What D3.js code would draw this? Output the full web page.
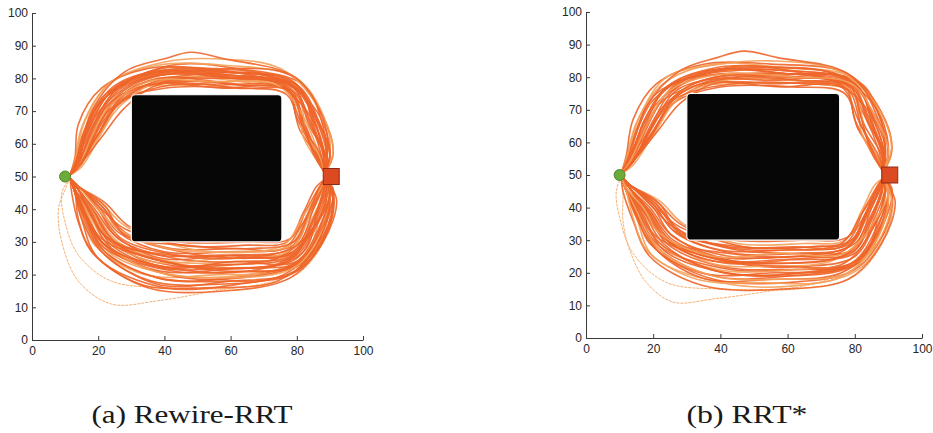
<!DOCTYPE html>
<html>
<head>
<meta charset="utf-8">
<script src="https://cdn.jsdelivr.net/npm/d3@7"></script>
<style>
body { margin: 0; background: #fff; }
svg { display: block; }
</style>
</head>
<body>
<div class="charts"></div>
<script>
// tick labels (both panels use the same axes)
var xTicks = [0, 20, 40, 60, 80, 100];
var yTicks = [0, 10, 20, 30, 40, 50, 60, 70, 80, 90, 100];

// obstacle box [x0, y0, x1, y1], start and goal
var obstacle = [30, 30, 75.5, 75];
var startA = [10, 50], goalA = [90.4, 50];
var startB = [10, 50], goalB = [90.4, 50];

var captions = ["(a) Rewire-RRT", "(b) RRT*"];

// (a) Rewire-RRT, paths around the top of the obstacle
var topA = [
  [[11.5,50.5],[14,53],[20,63],[27,73],[40,77],[62,77],[77,75],[81,64],[87,55],[88.5,51]],
  [[11.5,50.5],[14,54],[18,63],[24,73],[40,79],[62,78],[78,76],[83,64],[87,55],[88.5,51]],
  [[11.5,50.5],[13,54],[16,64],[22,75],[40,82],[60,81],[80,77],[86,65],[88,56],[88.5,51]],
  [[11.5,50.5],[14,53],[17,62],[25,76],[42,84],[62,83],[82,78],[88,65],[89,56],[88.5,51]],
  [[11.5,50.5],[13,55],[15,65],[23,78],[38,84],[58,84],[80,80],[89,66],[90,56],[88.5,51]],
  [[11.5,50.5],[14,53],[21,64],[28,75],[45,80],[65,80],[79,77],[84,66],[88,57],[88.5,51]],
  [[11.5,50.5],[15,54],[19,64],[26,74],[38,80],[57,79],[76,78],[82,67],[86,57],[88.5,51]],
  [[11.5,50.5],[13,53],[18,65],[27,78],[44,83],[66,81],[81,76],[86,63],[89,55],[88.5,51]],
  [[11.5,50.5],[14,54],[17,66],[24,77],[36,82],[60,82],[79,79],[85,68],[88,58],[88.5,51]],
  [[11.5,50.5],[15,53],[22,65],[29,76],[48,78],[68,79],[80,75],[83,63],[87,56],[88.5,51]],
  [[11.5,50.5],[13,56],[14,66],[21,77],[35,83],[55,83],[78,81],[88,68],[91,57],[88.5,51]],
  [[11.5,50.5],[14,53],[19,61],[25,71],[36,78],[58,77],[77,77],[80,68],[85,58],[88.5,51]],
  [[11.5,50.5],[14,54],[16,62],[22,72],[34,80],[56,81],[78,78],[84,67],[87,58],[88.5,51]],
  [[11.5,50.5],[13,54],[15,62],[20,72],[33,81],[52,82],[74,80],[86,70],[90,58],[88.5,51]],
  [[11.5,50.5],[14,53],[20,62],[27,72],[41,80],[63,79],[79,75],[82,62],[86,55],[88.5,51]],
  [[11.5,50.5],[15,54],[21,66],[30,77],[47,81],[70,81],[81,77],[85,65],[88,57],[88.5,51]],
  [[11.5,50.5],[13,53],[17,60],[23,70],[37,79],[55,80],[73,79],[83,70],[88,59],[88.5,51]],
  [[11.5,50.5],[14,55],[18,67],[26,78],[42,82],[61,80],[78,77],[82,66],[85,57],[88.5,51]],
  [[11.5,50.5],[14,53],[19,63],[25,74],[39,81],[60,80],[80,78],[87,66],[90,56],[88.5,51]],
  [[11.5,50.5],[13,55],[16,67],[24,79],[40,85],[55,86],[75,83],[86,72],[91,58],[88.5,51]],
  [[11.5,50.5],[14,56],[18,70],[28,82],[40,86],[48,88],[58,86],[80,80],[89,64],[88.5,51]],
  [[11.5,50.5],[14,53],[21,62],[28,71],[38,78],[56,78],[76,77],[81,67],[86,56],[88.5,51]],
  [[11.5,50.5],[15,54],[20,65],[27,75],[43,79],[64,78],[79,76],[84,65],[89,56],[88.5,51]],
  [[11.5,50.5],[13,54],[17,64],[24,76],[39,83],[57,82],[77,79],[85,69],[89,59],[88.5,51]],
  [[11.5,50.5],[14,53],[18,62],[23,71],[35,79],[54,79],[74,78],[81,70],[86,59],[88.5,51]],
  [[11.5,50.5],[14,54],[19,66],[27,77],[46,82],[67,82],[80,78],[86,67],[89,57],[88.5,51]],
  [[11.5,50.5],[13,54],[16,63],[22,74],[37,81],[59,81],[79,78],[86,68],[90,57],[88.5,51]],
  [[11.5,50.5],[14,53],[20,63],[26,72],[42,78],[64,77],[78,76],[82,65],[87,57],[88.5,51]]
];

// (a) Rewire-RRT, paths under the obstacle
var bottomA = [
  [[11.5,49.5],[14,47],[21,41],[28,33],[42,28],[62,28],[76,28],[82,36],[87,45],[88.5,49]],
  [[11.5,49.5],[14,46],[19,39],[26,30],[42,24],[62,24],[78,26],[84,36],[88,45],[88.5,49]],
  [[11.5,49.5],[13,46],[16,38],[21,28],[38,19],[60,19],[80,24],[88,36],[90,45],[88.5,49]],
  [[11.5,49.5],[13,45],[15,37],[20,25],[40,16],[62,17],[81,22],[90,35],[91,45],[88.5,49]],
  [[11.5,49.5],[14,47],[20,40],[27,31],[44,26],[64,26],[78,28],[83,38],[87,46],[88.5,49]],
  [[11.5,49.5],[14,46],[18,39],[24,29],[40,22],[58,22],[77,24],[85,34],[89,44],[88.5,49]],
  [[11.5,49.5],[13,46],[17,38],[23,27],[42,20],[65,20],[82,25],[87,38],[89,46],[88.5,49]],
  [[11.5,49.5],[13,45],[16,36],[22,26],[36,18],[55,17],[76,20],[88,32],[91,44],[88.5,49]],
  [[11.5,49.5],[14,47],[22,42],[29,35],[45,29],[65,29],[77,30],[82,39],[86,47],[88.5,49]],
  [[11.5,49.5],[14,46],[19,40],[25,32],[39,25],[60,26],[79,27],[85,37],[88,46],[88.5,49]],
  [[11.5,49.5],[13,46],[17,39],[24,30],[44,23],[66,22],[80,25],[86,35],[90,44],[88.5,49]],
  [[11.5,49.5],[13,45],[15,38],[19,29],[34,20],[56,20],[78,22],[87,34],[90,45],[88.5,49]],
  [[11.5,49.5],[14,47],[20,41],[26,33],[40,27],[59,27],[79,29],[84,39],[88,47],[88.5,49]],
  [[11.5,49.5],[13,46],[18,40],[24,31],[37,23],[54,23],[74,25],[84,33],[89,43],[88.5,49]],
  [[11.5,49.5],[13,45],[16,37],[22,28],[43,21],[63,21],[81,23],[89,36],[91,46],[88.5,49]],
  [[11.5,49.5],[12,45],[14,36],[19,26],[35,16],[58,15],[78,19],[88,30],[92,43],[88.5,49]],
  [[11.5,49.5],[14,47],[21,42],[28,35],[47,28],[68,27],[78,29],[83,37],[86,45],[88.5,49]],
  [[11.5,49.5],[14,46],[19,38],[25,29],[41,23],[61,23],[80,26],[86,37],[89,46],[88.5,49]],
  [[11.5,49.5],[13,46],[17,37],[23,28],[39,21],[62,22],[82,24],[88,34],[90,43],[88.5,49]],
  [[11.5,49.5],[13,45],[15,37],[21,27],[38,17],[60,18],[80,21],[89,33],[91,44],[88.5,49]],
  [[11.5,49.5],[14,47],[20,40],[26,31],[43,25],[64,24],[79,26],[85,36],[88,45],[88.5,49]],
  [[11.5,49.5],[14,46],[18,40],[23,31],[36,24],[57,25],[77,27],[84,38],[88,47],[88.5,49]],
  [[11.5,49.5],[13,46],[16,38],[22,29],[41,20],[63,19],[81,24],[88,37],[90,46],[88.5,49]],
  [[11.5,49.5],[13,45],[14,37],[18,27],[33,17],[52,16],[74,18],[86,28],[91,42],[88.5,49]],
  [[11.5,49.5],[14,47],[21,41],[27,33],[45,27],[66,25],[80,27],[84,35],[88,44],[88.5,49]],
  [[11.5,49.5],[14,46],[19,39],[25,30],[40,24],[60,21],[79,23],[87,35],[90,45],[88.5,49]],
  [[11.5,49.5],[13,46],[17,39],[23,29],[37,21],[58,19],[79,22],[87,32],[90,42],[88.5,49]],
  [[11.5,49.5],[14,47],[20,41],[28,34],[44,30],[64,30],[78,31],[83,40],[87,47],[88.5,49]],
  [[11.5,49.5],[13,45],[16,38],[21,30],[39,22],[61,24],[80,24],[88,35],[91,46],[88.5,49]],
  [[11.5,49.5],[14,46],[18,38],[24,28],[42,22],[65,21],[82,27],[86,38],[89,47],[88.5,49]],
  [[11.5,49.5],[13,46],[17,37],[22,27],[38,19],[58,18],[78,20],[87,31],[90,43],[88.5,49]],
  [[11.5,49.5],[14,47],[19,41],[26,34],[41,28],[61,27],[76,29],[82,38],[87,46],[88.5,49]],
  [[11.5,49.5],[13,46],[16,39],[21,31],[36,25],[56,22],[76,24],[85,34],[89,44],[88.5,49]],
  [[11.5,49.5],[14,46],[18,38],[24,30],[42,26],[62,25],[80,29],[85,40],[88,47],[88.5,49]],
  [[11.5,49.5],[14,47],[22,41],[28,32],[46,29],[66,28],[79,30],[84,40],[87,47],[88.5,49]],
  [[11.5,49.5],[13,46],[17,40],[22,32],[38,26],[57,26],[77,26],[86,36],[90,45],[88.5,49]]
];

// (a) faint stray paths
var strayA = [
  [[11.5,49.5],[10,46],[8,40],[9,30],[14,18],[24,11],[38,12],[55,15],[75,19],[87,30],[90,42],[88.5,49]],
  [[11.5,49.5],[9,45],[10,36],[14,26],[24,18],[42,16],[62,16],[80,20],[89,32],[91,44],[88.5,49]]
];

// (b) RRT*, paths around the top of the obstacle
var topB = [
  [[10.5,50.5],[13,53],[19,62],[26,72],[40,77],[62,77],[77,75],[81,64],[87,55],[88.5,51]],
  [[10.5,50.5],[13,54],[17,63],[23,73],[40,79],[62,79],[78,77],[83,65],[88,56],[88.5,51]],
  [[10.5,50.5],[12,54],[15,64],[21,75],[40,82],[61,81],[80,78],[86,66],[89,56],[88.5,51]],
  [[10.5,50.5],[13,53],[17,62],[25,76],[42,83],[62,82],[82,78],[88,66],[90,57],[88.5,51]],
  [[10.5,50.5],[12,55],[15,66],[23,78],[38,84],[58,83],[79,80],[89,67],[91,57],[88.5,51]],
  [[10.5,50.5],[13,53],[21,65],[28,75],[45,80],[65,80],[79,77],[84,67],[88,57],[88.5,51]],
  [[10.5,50.5],[14,54],[19,64],[26,74],[38,80],[57,80],[77,78],[83,68],[87,58],[88.5,51]],
  [[10.5,50.5],[12,53],[18,65],[27,78],[44,82],[66,81],[81,76],[86,64],[89,55],[88.5,51]],
  [[10.5,50.5],[13,54],[17,66],[24,77],[36,82],[60,82],[79,79],[85,69],[89,59],[88.5,51]],
  [[10.5,50.5],[14,53],[22,66],[29,76],[48,78],[68,78],[80,75],[83,63],[87,55],[88.5,51]],
  [[10.5,50.5],[12,56],[14,67],[21,78],[35,84],[55,84],[78,81],[88,69],[91,58],[88.5,51]],
  [[10.5,50.5],[13,53],[19,61],[25,71],[36,78],[58,77],[77,77],[80,67],[85,57],[88.5,51]],
  [[10.5,50.5],[13,54],[16,63],[22,73],[34,80],[56,81],[78,79],[84,68],[88,58],[88.5,51]],
  [[10.5,50.5],[12,54],[15,63],[20,73],[33,81],[52,83],[74,81],[86,71],[90,59],[88.5,51]],
  [[10.5,50.5],[13,53],[20,62],[27,73],[41,79],[63,79],[79,76],[82,63],[86,55],[88.5,51]],
  [[10.5,50.5],[14,54],[21,67],[30,77],[47,81],[70,80],[81,77],[85,66],[88,57],[88.5,51]],
  [[10.5,50.5],[12,53],[17,61],[23,71],[37,79],[55,79],[73,79],[83,71],[88,60],[88.5,51]],
  [[10.5,50.5],[13,55],[18,68],[26,78],[42,81],[61,80],[78,78],[82,67],[85,57],[88.5,51]],
  [[10.5,50.5],[13,53],[19,64],[25,75],[39,82],[60,81],[80,79],[87,67],[90,57],[88.5,51]],
  [[10.5,50.5],[12,55],[16,68],[24,80],[40,84],[55,85],[75,82],[86,72],[91,59],[88.5,51]],
  [[10.5,50.5],[13,56],[18,71],[28,82],[39,86],[47,88],[57,86],[78,81],[88,66],[88.5,51]],
  [[10.5,50.5],[13,53],[21,63],[28,72],[38,78],[56,78],[76,77],[81,67],[86,56],[88.5,51]],
  [[10.5,50.5],[14,54],[20,65],[27,76],[43,80],[64,79],[79,77],[84,66],[89,56],[88.5,51]],
  [[10.5,50.5],[12,54],[17,64],[24,77],[39,83],[57,83],[77,80],[85,70],[89,60],[88.5,51]],
  [[10.5,50.5],[13,54],[18,65],[25,76],[41,81],[62,80],[79,78],[86,68],[90,58],[88.5,51]],
  [[10.5,50.5],[13,53],[20,63],[26,73],[44,78],[65,78],[78,76],[82,65],[87,56],[88.5,51]]
];

// (b) RRT*, paths under the obstacle
var bottomB = [
  [[10.5,49.5],[13,47],[21,41],[28,33],[42,28],[62,28],[76,28],[82,36],[87,45],[88.5,49]],
  [[10.5,49.5],[13,46],[19,39],[26,30],[42,24],[62,23],[78,26],[84,36],[88,45],[88.5,49]],
  [[10.5,49.5],[12,46],[16,38],[21,28],[38,19],[60,19],[80,23],[88,35],[90,45],[88.5,49]],
  [[10.5,49.5],[12,45],[15,37],[20,25],[40,17],[62,16],[81,21],[90,34],[91,45],[88.5,49]],
  [[10.5,49.5],[13,47],[20,41],[27,32],[44,26],[64,26],[78,28],[83,38],[87,46],[88.5,49]],
  [[10.5,49.5],[13,46],[18,39],[24,29],[40,22],[58,21],[77,23],[85,33],[89,44],[88.5,49]],
  [[10.5,49.5],[12,46],[17,38],[23,27],[42,20],[65,20],[82,24],[87,37],[89,46],[88.5,49]],
  [[10.5,49.5],[12,45],[16,36],[22,26],[36,18],[55,18],[76,20],[88,31],[91,44],[88.5,49]],
  [[10.5,49.5],[13,47],[22,42],[29,35],[45,29],[65,29],[77,30],[82,39],[86,47],[88.5,49]],
  [[10.5,49.5],[13,46],[19,40],[25,32],[39,25],[60,25],[79,27],[85,37],[88,46],[88.5,49]],
  [[10.5,49.5],[12,46],[17,39],[24,30],[44,23],[66,22],[80,25],[86,35],[90,44],[88.5,49]],
  [[10.5,49.5],[12,45],[15,38],[19,29],[34,20],[56,20],[78,22],[87,33],[90,45],[88.5,49]],
  [[10.5,49.5],[13,47],[20,41],[26,33],[40,27],[59,27],[79,29],[84,39],[88,47],[88.5,49]],
  [[10.5,49.5],[12,46],[18,40],[24,31],[37,23],[54,22],[74,24],[84,33],[89,43],[88.5,49]],
  [[10.5,49.5],[12,45],[16,37],[22,28],[43,21],[63,21],[81,23],[89,36],[91,46],[88.5,49]],
  [[10.5,49.5],[11,45],[14,36],[19,25],[35,16],[58,15],[78,18],[88,29],[92,42],[88.5,49]],
  [[10.5,49.5],[13,47],[21,42],[28,35],[47,28],[68,28],[78,29],[83,37],[86,45],[88.5,49]],
  [[10.5,49.5],[13,46],[19,38],[25,29],[41,23],[61,24],[80,26],[86,37],[89,46],[88.5,49]],
  [[10.5,49.5],[12,46],[17,37],[23,28],[39,21],[62,21],[82,24],[88,34],[90,43],[88.5,49]],
  [[10.5,49.5],[12,45],[15,37],[21,27],[38,18],[60,17],[80,21],[89,33],[91,44],[88.5,49]],
  [[10.5,49.5],[13,47],[20,40],[26,31],[43,25],[64,25],[79,26],[85,36],[88,45],[88.5,49]],
  [[10.5,49.5],[13,46],[18,40],[23,31],[36,24],[57,24],[77,27],[84,38],[88,47],[88.5,49]],
  [[10.5,49.5],[12,46],[16,38],[22,29],[41,20],[63,20],[81,24],[88,37],[90,46],[88.5,49]],
  [[10.5,49.5],[12,45],[14,37],[18,27],[33,18],[52,17],[74,18],[86,28],[91,42],[88.5,49]],
  [[10.5,49.5],[13,47],[21,41],[27,33],[45,27],[66,26],[80,27],[84,35],[88,44],[88.5,49]],
  [[10.5,49.5],[13,46],[19,39],[25,30],[40,24],[60,22],[79,23],[87,35],[90,45],[88.5,49]],
  [[10.5,49.5],[12,46],[17,39],[23,29],[37,21],[58,19],[79,22],[87,32],[90,42],[88.5,49]],
  [[10.5,49.5],[13,47],[20,41],[28,34],[44,30],[64,30],[78,31],[83,40],[87,47],[88.5,49]],
  [[10.5,49.5],[12,46],[16,37],[22,27],[38,19],[58,18],[78,20],[87,31],[90,43],[88.5,49]],
  [[10.5,49.5],[13,47],[19,41],[26,34],[41,28],[61,27],[76,29],[82,38],[87,46],[88.5,49]],
  [[10.5,49.5],[12,46],[16,39],[21,31],[36,25],[56,23],[76,25],[85,34],[89,44],[88.5,49]],
  [[10.5,49.5],[13,46],[18,38],[24,30],[42,26],[62,25],[80,29],[85,40],[88,47],[88.5,49]],
  [[10.5,49.5],[13,47],[22,41],[28,32],[46,28],[67,28],[79,30],[84,40],[87,47],[88.5,49]],
  [[10.5,49.5],[12,46],[17,40],[22,32],[38,25],[58,26],[77,26],[86,36],[90,45],[88.5,49]]
];

// (b) faint stray paths
var strayB = [
  [[10.5,49.5],[11,44],[11,36],[13,27],[18,17],[26,11],[38,12],[52,14],[72,18],[86,28],[91,41],[88.5,49]],
  [[10.5,49.5],[9,45],[10,37],[14,26],[24,17],[42,15],[62,15],[80,19],[89,31],[91,43],[88.5,49]]
];

var W = 933, H = 433;

var svg = d3.select('.charts')
  .append('svg')
  .attr('width', W)
  .attr('height', H);

var panels = [
  { xr: [32, 363], yr: [340, 13], paths: topA.concat(bottomA), stray: strayA,
    start: startA, goal: goalA, caption: captions[0], capX: 192, capW: 201 },
  { xr: [586, 922], yr: [338, 12], paths: topB.concat(bottomB), stray: strayB,
    start: startB, goal: goalB, caption: captions[1], capX: 747, capW: 121 }
];

var drawPanel = function(p) {
  var x = d3.scaleLinear().domain([0, 100]).range(p.xr);
  var y = d3.scaleLinear().domain([0, 100]).range(p.yr);
  var g = svg.append('g');

  var line = d3.line()
    .x(function(d) { return x(d[0]); })
    .y(function(d) { return y(d[1]); })
    .curve(d3.curveCatmullRom.alpha(0.5));

  // stray, faint paths first
  g.selectAll('path.stray')
    .data(p.stray)
    .enter()
    .append('path')
    .attr('class', 'stray')
    .attr('d', line)
    .attr('fill', 'none')
    .attr('stroke', '#f3a765')
    .attr('stroke-width', 0.9)
    .attr('stroke-dasharray', '3,1');

  g.selectAll('path.traj')
    .data(p.paths)
    .enter()
    .append('path')
    .attr('class', 'traj')
    .attr('d', line)
    .attr('fill', 'none')
    .attr('stroke', function(d, i) {
      return i % 5 === 4 ? '#f4a05a' : '#ee6529';
    })
    .attr('stroke-width', 1.6)
    .attr('stroke-opacity', 0.9);

  // obstacle
  g.append('rect')
    .attr('x', x(obstacle[0]))
    .attr('y', y(obstacle[3]))
    .attr('width', x(obstacle[2]) - x(obstacle[0]))
    .attr('height', y(obstacle[1]) - y(obstacle[3]))
    .attr('rx', 4)
    .attr('fill', '#060606')
    .attr('stroke', '#fff')
    .attr('stroke-width', 1.2);

  // start and goal markers
  g.append('circle')
    .attr('cx', x(p.start[0]))
    .attr('cy', y(p.start[1]))
    .attr('r', 5.5)
    .attr('fill', '#6cab3a')
    .attr('stroke', '#4e8a2a')
    .attr('stroke-width', 1);

  g.append('rect')
    .attr('x', x(p.goal[0]) - 8)
    .attr('y', y(p.goal[1]) - 8)
    .attr('width', 16)
    .attr('height', 16)
    .attr('fill', '#dd4a22')
    .attr('stroke', '#8c2a16')
    .attr('stroke-width', 1);

  // axes, ticks pointing inward like the original
  var xAxis = d3.axisBottom(x).tickValues(xTicks).tickSizeInner(-4).tickSizeOuter(0).tickPadding(6);
  var yAxis = d3.axisLeft(y).tickValues(yTicks).tickSizeInner(-4).tickSizeOuter(0).tickPadding(4);

  var gx = g.append('g')
    .attr('transform', 'translate(0,' + p.yr[0] + ')')
    .call(xAxis);
  var gy = g.append('g')
    .attr('transform', 'translate(' + p.xr[0] + ',0)')
    .call(yAxis);

  [gx, gy].forEach(function(a) {
    a.selectAll('path, line').attr('stroke', '#3a3a3a');
    a.selectAll('text')
      .attr('fill', '#262626')
      .attr('font-family', 'Arial, "Liberation Sans", Helvetica, sans-serif')
      .attr('font-size', 12);
  });

  // caption
  svg.append('text')
    .attr('x', p.capX)
    .attr('y', 423)
    .attr('text-anchor', 'middle')
    .attr('textLength', p.capW)
    .attr('lengthAdjust', 'spacingAndGlyphs')
    .attr('font-family', '"Times New Roman", "Liberation Serif", Times, serif')
    .attr('font-size', 26)
    .attr('fill', '#1a1a1a')
    .text(p.caption);
};

panels.forEach(drawPanel);
</script>
</body>
</html>
